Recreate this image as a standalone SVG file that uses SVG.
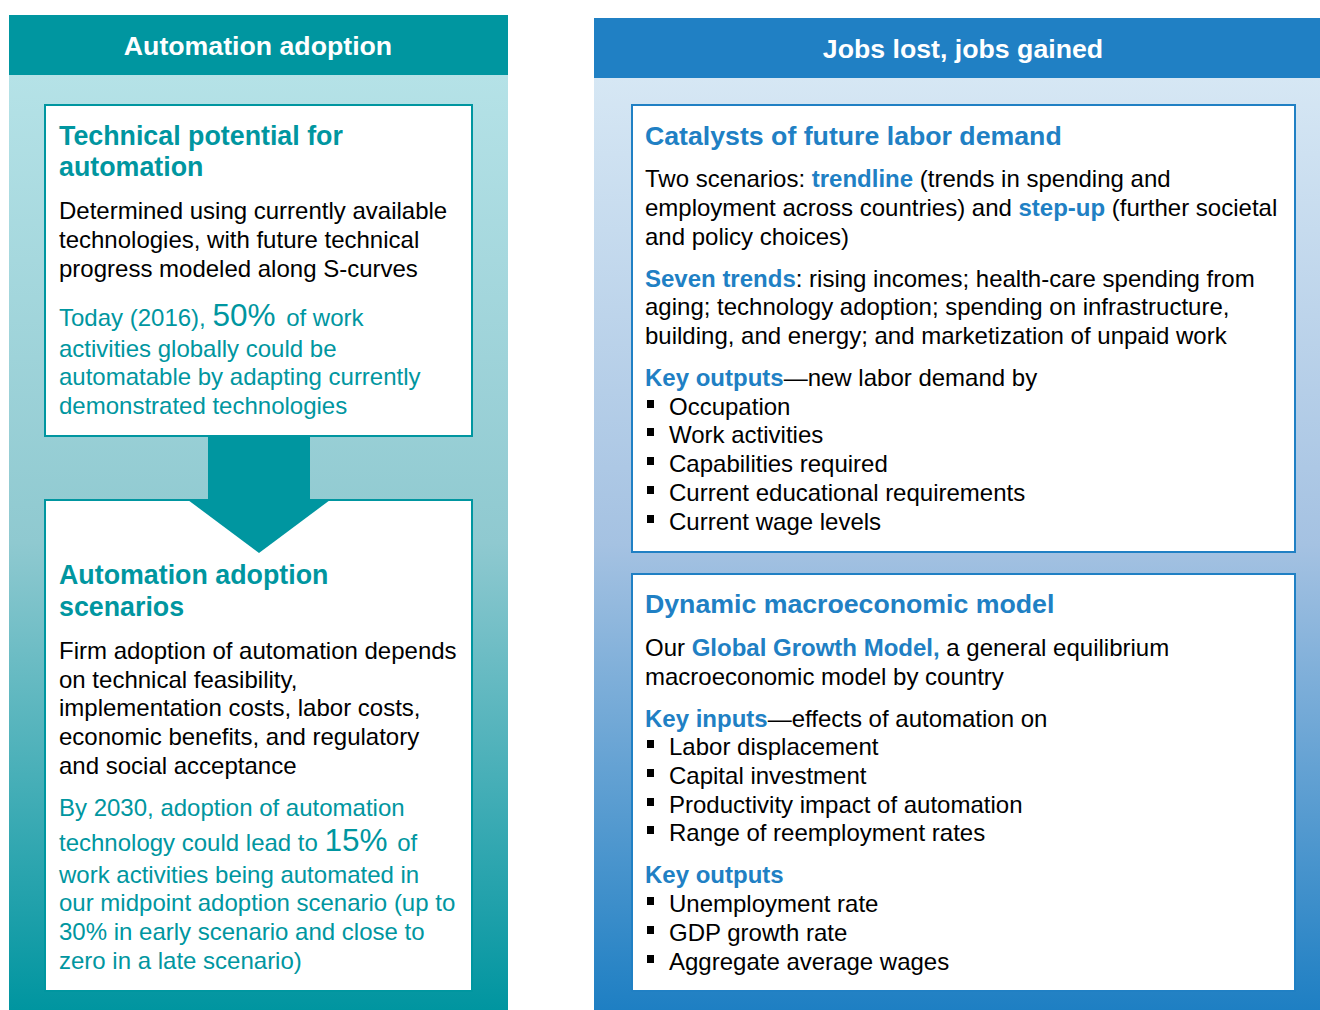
<svg xmlns="http://www.w3.org/2000/svg" width="1320" height="1010" viewBox="0 0 1320 1010">
<defs>
<linearGradient id="gl" x1="0" y1="0" x2="0" y2="1">
<stop offset="0" stop-color="#B5E2E7"/>
<stop offset="0.5" stop-color="#8FC9D0"/>
<stop offset="1" stop-color="#0095A0"/>
</linearGradient>
<linearGradient id="gr" x1="0" y1="0" x2="0" y2="1">
<stop offset="0" stop-color="#D6E7F4"/>
<stop offset="0.5" stop-color="#A5C2E2"/>
<stop offset="1" stop-color="#1E7FC3"/>
</linearGradient>
<style>
text{font-family:"Liberation Sans",Arial,sans-serif;font-size:24px;fill:#000}
.hd{font-size:26.7px;font-weight:bold;fill:#fff;text-anchor:middle}
.tt{font-size:26.8px;font-weight:bold;fill:#0096A0}
.bt{font-size:26.7px;font-weight:bold;fill:#2080C4}
.tl{fill:#0096A0}
.big{font-size:31.5px}
.b{font-weight:bold;fill:#2080C4}
.lbox{fill:#fff;stroke:#0096A0;stroke-width:2}
.rbox{fill:#fff;stroke:#2080C4;stroke-width:2}
.bul{fill:#000}
</style>
</defs>
<g id="left-panel">
<rect x="9" y="75" width="499" height="935" fill="url(#gl)"/>
<rect x="9" y="15" width="499" height="60" fill="#0096A0"/>
<text class="hd" x="258" y="55">Automation adoption</text>
</g>
<g id="right-panel">
<rect x="594" y="78" width="726" height="932" fill="url(#gr)"/>
<rect x="594" y="18" width="726" height="60" fill="#2080C4"/>
<text class="hd" x="963" y="58">Jobs lost, jobs gained</text>
</g>
<g id="connectors">
<rect x="208" y="436" width="102" height="66" fill="#0096A0"/>
</g>
<g id="box-technical">
<rect class="lbox" x="45" y="105" width="427" height="331"/>
<text class="tt" x="59" y="145">Technical potential for</text>
<text class="tt" x="59" y="176">automation</text>
<text x="59" y="219">Determined using currently available</text>
<text x="59" y="248">technologies, with future technical</text>
<text x="59" y="277">progress modeled along S-curves</text>
<text class="tl" x="59" y="326">Today (2016), <tspan class="big">50%</tspan><tspan dx="4"> of work</tspan></text>
<text class="tl" x="59" y="357">activities globally could be</text>
<text class="tl" x="59" y="385">automatable by adapting currently</text>
<text class="tl" x="59" y="414">demonstrated technologies</text>
</g>
<g id="box-scenarios">
<rect class="lbox" x="45" y="500" width="427" height="491"/>
<polygon points="188,500 330,500 259,553" fill="#0096A0"/>
<text class="tt" x="59" y="584">Automation adoption</text>
<text class="tt" x="59" y="616">scenarios</text>
<text x="59" y="659">Firm adoption of automation depends</text>
<text x="59" y="688">on technical feasibility,</text>
<text x="59" y="716">implementation costs, labor costs,</text>
<text x="59" y="745">economic benefits, and regulatory</text>
<text x="59" y="774">and social acceptance</text>
<text class="tl" x="59" y="816">By 2030, adoption of automation</text>
<text class="tl" x="59" y="851">technology could lead to <tspan class="big">15%</tspan><tspan dx="3"> of</tspan></text>
<text class="tl" x="59" y="883">work activities being automated in</text>
<text class="tl" x="59" y="911">our midpoint adoption scenario (up to</text>
<text class="tl" x="59" y="940">30% in early scenario and close to</text>
<text class="tl" x="59" y="969">zero in a late scenario)</text>
</g>
<g id="box-catalysts">
<rect class="rbox" x="632" y="105" width="663" height="447"/>
<text class="bt" x="645" y="145">Catalysts of future labor demand</text>
<text x="645" y="187">Two scenarios: <tspan class="b">trendline</tspan> (trends in spending and</text>
<text x="645" y="216">employment across countries) and <tspan class="b">step-up</tspan> (further societal</text>
<text x="645" y="245">and policy choices)</text>
<text x="645" y="287"><tspan class="b">Seven trends</tspan>: rising incomes; health-care spending from</text>
<text x="645" y="315">aging; technology adoption; spending on infrastructure,</text>
<text x="645" y="344">building, and energy; and marketization of unpaid work</text>
<text x="645" y="386"><tspan class="b">Key outputs</tspan>—new labor demand by</text>
<rect class="bul" x="647" y="400" width="7" height="8"/>
<text x="669" y="415">Occupation</text>
<rect class="bul" x="647" y="428" width="7" height="8"/>
<text x="669" y="443">Work activities</text>
<rect class="bul" x="647" y="457" width="7" height="8"/>
<text x="669" y="472">Capabilities required</text>
<rect class="bul" x="647" y="486" width="7" height="8"/>
<text x="669" y="501">Current educational requirements</text>
<rect class="bul" x="647" y="515" width="7" height="8"/>
<text x="669" y="530">Current wage levels</text>
</g>
<g id="box-macro">
<rect class="rbox" x="632" y="574" width="663" height="417"/>
<text class="bt" x="645" y="613">Dynamic macroeconomic model</text>
<text x="645" y="656">Our <tspan class="b">Global Growth Model,</tspan> a general equilibrium</text>
<text x="645" y="685">macroeconomic model by country</text>
<text x="645" y="727"><tspan class="b">Key inputs</tspan>—effects of automation on</text>
<rect class="bul" x="647" y="740" width="7" height="8"/>
<text x="669" y="755">Labor displacement</text>
<rect class="bul" x="647" y="769" width="7" height="8"/>
<text x="669" y="784">Capital investment</text>
<rect class="bul" x="647" y="798" width="7" height="8"/>
<text x="669" y="813">Productivity impact of automation</text>
<rect class="bul" x="647" y="826" width="7" height="8"/>
<text x="669" y="841">Range of reemployment rates</text>
<text x="645" y="883" class="b">Key outputs</text>
<rect class="bul" x="647" y="897" width="7" height="8"/>
<text x="669" y="912">Unemployment rate</text>
<rect class="bul" x="647" y="926" width="7" height="8"/>
<text x="669" y="941">GDP growth rate</text>
<rect class="bul" x="647" y="955" width="7" height="8"/>
<text x="669" y="970">Aggregate average wages</text>
</g>
</svg>
